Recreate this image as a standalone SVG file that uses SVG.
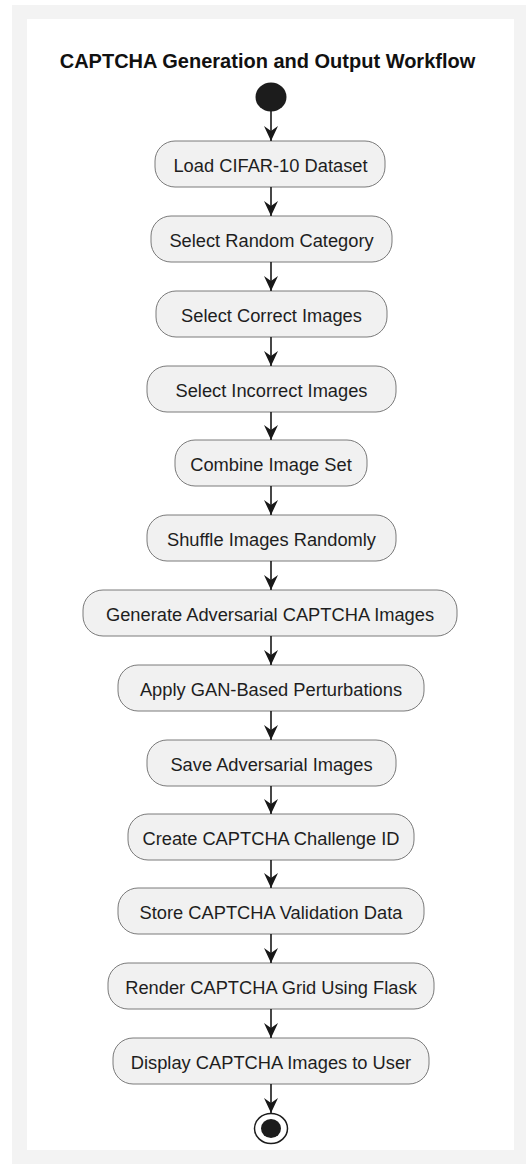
<svg xmlns="http://www.w3.org/2000/svg" width="526" height="1164" viewBox="0 0 526 1164">
<style>
.node rect{fill:#f1f1f1;stroke:#7a7a7a;stroke-width:1}
.node text{font-family:"Liberation Sans",Arial,sans-serif;font-size:18.3px;fill:#1e1e1e;text-anchor:middle}
.title{font-family:"Liberation Sans",Arial,sans-serif;font-size:20px;font-weight:bold;fill:#111;text-anchor:middle}
.conn path{fill:none;stroke:#181818;stroke-width:1.6}
</style>
<defs>
<marker id="ah" markerUnits="userSpaceOnUse" markerWidth="16" markerHeight="15" refX="15" refY="7" orient="auto">
<path d="M0,0 L15,7 L0,14 L5,7 Z" fill="#181818"/>
</marker>
</defs>
<rect x="0" y="0" width="526" height="1164" fill="#ffffff"/>
<rect x="12" y="5" width="514" height="1159" fill="#f3f3f3"/>
<rect x="27" y="19" width="487" height="1131" fill="#ffffff"/>
<text class="title" x="267.5" y="67.5">CAPTCHA Generation and Output Workflow</text>
<g id="start"><ellipse cx="271" cy="97" rx="15.5" ry="14.5" fill="#1c1c1c"/></g>
<g id="n1" class="node"><rect x="155" y="141" width="230" height="46" rx="20"/><text x="270.5" y="172">Load CIFAR-10 Dataset</text></g>
<g id="n2" class="node"><rect x="151" y="216" width="241" height="46" rx="20"/><text x="271.5" y="247">Select Random Category</text></g>
<g id="n3" class="node"><rect x="156" y="291" width="231" height="46" rx="20"/><text x="271.5" y="322">Select Correct Images</text></g>
<g id="n4" class="node"><rect x="147" y="366" width="249" height="46" rx="20"/><text x="271.5" y="397">Select Incorrect Images</text></g>
<g id="n5" class="node"><rect x="175" y="440" width="192" height="46" rx="20"/><text x="271" y="471">Combine Image Set</text></g>
<g id="n6" class="node"><rect x="147" y="515" width="249" height="46" rx="20"/><text x="271.5" y="546">Shuffle Images Randomly</text></g>
<g id="n7" class="node"><rect x="83" y="590" width="374" height="46" rx="20"/><text x="270" y="621">Generate Adversarial CAPTCHA Images</text></g>
<g id="n8" class="node"><rect x="118" y="665" width="306" height="46" rx="20"/><text x="271" y="696">Apply GAN-Based Perturbations</text></g>
<g id="n9" class="node"><rect x="147" y="740" width="249" height="46" rx="20"/><text x="271.5" y="771">Save Adversarial Images</text></g>
<g id="n10" class="node"><rect x="128" y="814" width="286" height="46" rx="20"/><text x="271" y="845">Create CAPTCHA Challenge ID</text></g>
<g id="n11" class="node"><rect x="118" y="888" width="306" height="46" rx="20"/><text x="271" y="919">Store CAPTCHA Validation Data</text></g>
<g id="n12" class="node"><rect x="108" y="963" width="326" height="46" rx="20"/><text x="271" y="994">Render CAPTCHA Grid Using Flask</text></g>
<g id="n13" class="node"><rect x="113" y="1038" width="316" height="46" rx="20"/><text x="271" y="1069">Display CAPTCHA Images to User</text></g>
<g id="end"><ellipse cx="271" cy="1128.5" rx="16.5" ry="15" fill="#ffffff" stroke="#1c1c1c" stroke-width="1.5"/><ellipse cx="271" cy="1128.5" rx="10" ry="9.5" fill="#1c1c1c"/></g>
<g id="connectors" class="conn">
<path d="M271,111 V141" marker-end="url(#ah)"/>
<path d="M271,187 V216" marker-end="url(#ah)"/>
<path d="M271,262 V291" marker-end="url(#ah)"/>
<path d="M271,337 V366" marker-end="url(#ah)"/>
<path d="M271,412 V440" marker-end="url(#ah)"/>
<path d="M271,486 V515" marker-end="url(#ah)"/>
<path d="M271,561 V590" marker-end="url(#ah)"/>
<path d="M271,636 V665" marker-end="url(#ah)"/>
<path d="M271,711 V740" marker-end="url(#ah)"/>
<path d="M271,786 V814" marker-end="url(#ah)"/>
<path d="M271,860 V888" marker-end="url(#ah)"/>
<path d="M271,934 V963" marker-end="url(#ah)"/>
<path d="M271,1009 V1038" marker-end="url(#ah)"/>
<path d="M271,1084 V1113" marker-end="url(#ah)"/>
</g>
</svg>
